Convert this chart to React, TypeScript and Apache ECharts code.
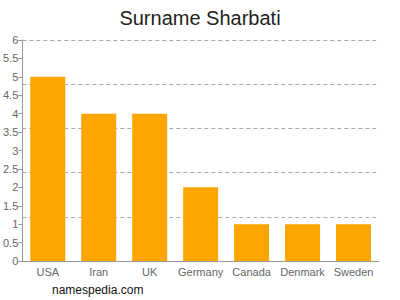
import React, { useEffect, useRef } from "react";
import * as echarts from "echarts";

const categories = ["USA", "Iran", "UK", "Germany", "Canada", "Denmark", "Sweden"];
const values = [5, 4, 4, 2, 1, 1, 1];

export default function App() {
  const ref = useRef<HTMLDivElement>(null);
  useEffect(() => {
    const chart = echarts.init(ref.current!, undefined, { renderer: "svg" });
    const font = "'Liberation Sans', Arial, sans-serif";
    chart.setOption({
      animation: false,
      title: {
        text: "Surname Sharbati",
        left: "center",
        top: 3,
        textStyle: { fontFamily: font, fontSize: 20, fontWeight: "normal", color: "#222" },
      },
      graphic: [
        {
          type: "text",
          left: 52,
          top: 284,
          style: { text: "namespedia.com", fontFamily: font, fontSize: 12, fill: "#111" },
        },
      ],
      grid: { left: 22, right: 21, top: 40, bottom: 39 },
      xAxis: {
        type: "category",
        data: categories,
        axisLine: { show: true, lineStyle: { color: "#999" } },
        axisTick: { show: false },
        axisLabel: { color: "#666", fontFamily: font, fontSize: 11, margin: 5, interval: 0 },
      },
      yAxis: [
        {
          type: "value",
          min: 0,
          max: 6,
          interval: 0.5,
          axisLine: { show: true, lineStyle: { color: "#999" } },
          axisTick: { show: true, length: 4, lineStyle: { color: "#999" } },
          axisLabel: { color: "#666", fontFamily: font, fontSize: 11, margin: 4 },
          splitLine: { show: false },
        },
        {
          type: "value",
          min: 0,
          max: 6,
          interval: 1.2,
          position: "left",
          axisLine: { show: false },
          axisTick: { show: false },
          axisLabel: { show: false },
          splitLine: { show: true, lineStyle: { color: "#aaa", type: [4, 3] } },
        },
      ],
      series: [
        {
          type: "bar",
          data: values,
          barWidth: 35,
          itemStyle: { color: "#ffa500" },
        },
      ],
    });
    return () => chart.dispose();
  }, []);
  return <div ref={ref} style={{ width: 400, height: 300, position: "absolute", left: 0, top: 0 }} />;
}
